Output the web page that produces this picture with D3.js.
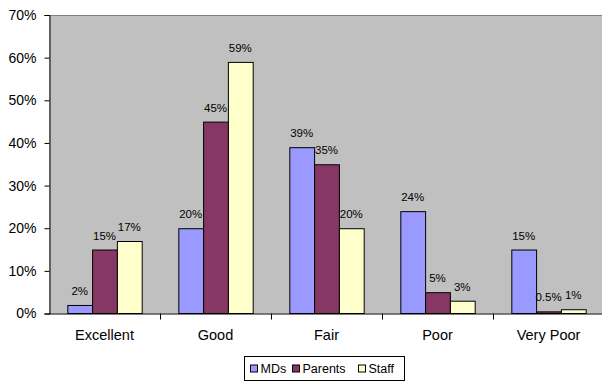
<!DOCTYPE html>
<html>
<head>
<meta charset="utf-8">
<script src="https://cdn.jsdelivr.net/npm/d3@7"></script>
<style>
  body { margin: 0; background: #fff; }
  text { font-family: Arial, "Liberation Sans", sans-serif; fill: #000; }
</style>
</head>
<body>
<div id="chart"></div>
<script>
// chart data
var categories = ["Excellent", "Good", "Fair", "Poor", "Very Poor"];
var seriesNames = ["MDs", "Parents", "Staff"];
var mds = [2, 20, 39, 24, 15];
var parents = [15, 45, 35, 5, 0.5];
var staff = [17, 59, 20, 3, 1];
var yTicks = [0, 10, 20, 30, 40, 50, 60, 70];

var values = [mds, parents, staff];
var colors = ["#9999FF", "#873764", "#FFFFCC"];

var width = 602, height = 385;
var plot = { left: 49, right: 604, top: 15, bottom: 313.5 };

var svg = d3.select("#chart").append("svg")
  .attr("width", width)
  .attr("height", height);

var x = d3.scaleBand()
  .domain(categories)
  .range([plot.left, plot.right])
  .paddingInner(0.33)
  .paddingOuter(0.165);

var xCat = d3.scaleBand()
  .domain(categories)
  .range([plot.left, plot.right]);

var xSub = d3.scaleBand()
  .domain(seriesNames)
  .range([0, x.bandwidth()]);

var y = d3.scaleLinear()
  .domain([0, 70])
  .range([plot.bottom, plot.top]);

// plot background
svg.append("rect")
  .attr("x", plot.left)
  .attr("y", plot.top)
  .attr("width", plot.right - plot.left)
  .attr("height", plot.bottom - plot.top)
  .attr("fill", "#C0C0C0");

svg.append("line")
  .attr("x1", plot.left).attr("x2", plot.right)
  .attr("y1", plot.top + 0.5).attr("y2", plot.top + 0.5)
  .attr("stroke", "#808080");

// bars
var rows = [];
categories.forEach(function (c, i) {
  seriesNames.forEach(function (s, j) {
    rows.push({ cat: c, series: s, value: values[j][i], color: colors[j] });
  });
});

svg.append("g").selectAll("rect")
  .data(rows)
  .enter()
  .append("rect")
    .attr("x", function (d) { return x(d.cat) + xSub(d.series) + 0.5; })
    .attr("y", function (d) { return y(d.value) + 0.5; })
    .attr("width", xSub.bandwidth())
    .attr("height", function (d) { return Math.max(0, plot.bottom - y(d.value) - 0.5); })
    .attr("fill", function (d) { return d.color; })
    .attr("stroke", "#000")
    .attr("stroke-width", 1);

// value labels
svg.append("g").selectAll("text")
  .data(rows)
  .enter()
  .append("text")
    .attr("x", function (d) { return x(d.cat) + xSub(d.series) + xSub.bandwidth() / 2; })
    .attr("y", function (d) { return y(d.value) - 10; })
    .attr("text-anchor", "middle")
    .attr("font-size", "11.5px")
    .text(function (d) { return d.value + "%"; });

// y axis
var yAxis = d3.axisLeft(y)
  .tickValues(yTicks)
  .tickSize(5)
  .tickPadding(8)
  .tickFormat(function (d) { return d + "%"; });

var yg = svg.append("g")
  .attr("transform", "translate(" + (plot.left + 0.5) + ",0)")
  .call(yAxis);
yg.select(".domain").attr("stroke", "#000");
yg.selectAll(".tick line").attr("stroke", "#000");
yg.selectAll(".tick text").attr("font-size", "14px").attr("font-family", "Arial, 'Liberation Sans', sans-serif");

// x axis
var xAxis = d3.axisBottom(xCat)
  .tickSize(0)
  .tickPadding(16);

var xg = svg.append("g")
  .attr("transform", "translate(0," + (plot.bottom + 0.5) + ")")
  .call(xAxis);
xg.select(".domain").remove();
xg.selectAll(".tick text").attr("font-size", "14.5px").attr("font-family", "Arial, 'Liberation Sans', sans-serif");

svg.append("line")
  .attr("x1", plot.left).attr("x2", width)
  .attr("y1", plot.bottom + 0.5).attr("y2", plot.bottom + 0.5)
  .attr("stroke", "#000");

// category separators
svg.append("g").selectAll("line")
  .data(categories.slice(1))
  .enter()
  .append("line")
    .attr("x1", function (d) { return Math.round(xCat(d)) + 0.5; })
    .attr("x2", function (d) { return Math.round(xCat(d)) + 0.5; })
    .attr("y1", plot.bottom)
    .attr("y2", plot.bottom + 6)
    .attr("stroke", "#000");

// legend
var legend = svg.append("g").attr("transform", "translate(244.5,356.5)");
legend.append("rect")
  .attr("width", 160)
  .attr("height", 24)
  .attr("fill", "#fff")
  .attr("stroke", "#000");

var legendX = [6, 48, 114];
var items = legend.selectAll("g.item")
  .data(seriesNames)
  .enter()
  .append("g")
    .attr("class", "item")
    .attr("transform", function (d, i) { return "translate(" + legendX[i] + ",0)"; });

items.append("rect")
  .attr("x", 0)
  .attr("y", 8.5)
  .attr("width", 7)
  .attr("height", 7)
  .attr("fill", function (d, i) { return colors[i]; })
  .attr("stroke", "#000");

items.append("text")
  .attr("x", 10)
  .attr("y", 16.5)
  .attr("font-size", "12.5px")
  .text(function (d) { return d; });
</script>
</body>
</html>
